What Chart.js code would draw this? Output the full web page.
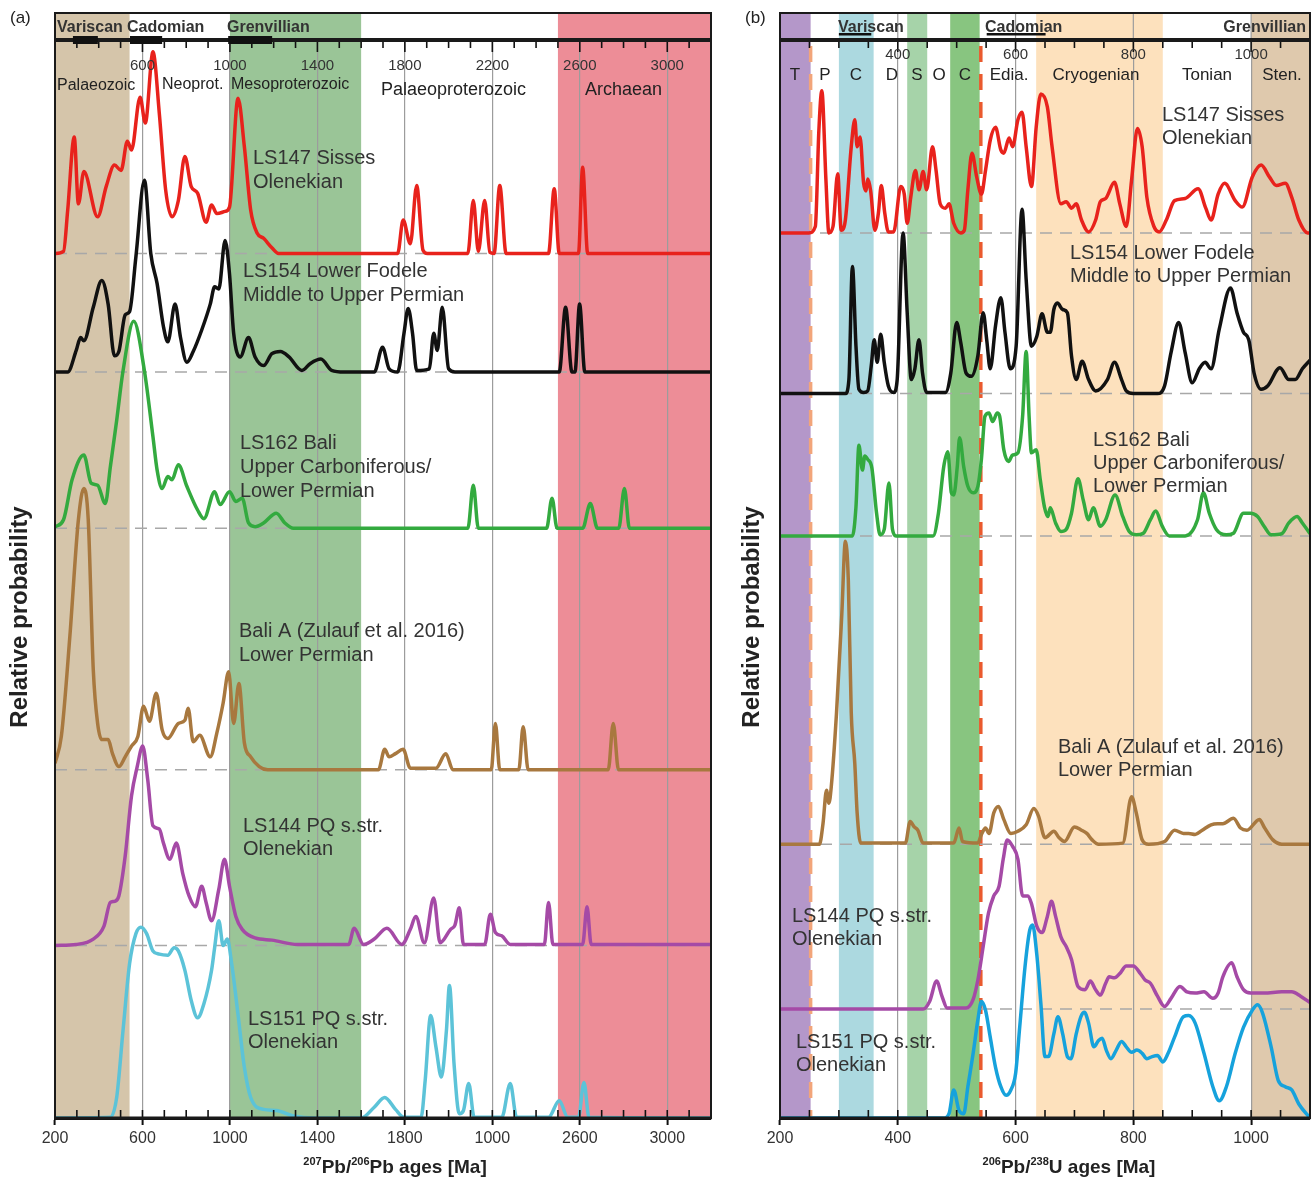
<!DOCTYPE html>
<html>
<head>
<meta charset="utf-8">
<script src="https://cdn.jsdelivr.net/npm/chart.js@4.4.1/dist/chart.umd.min.js"></script>
<style>
  body { margin: 0; background: #fff; width: 1315px; height: 1185px; position: relative; overflow: hidden;
         font-family: 'Liberation Sans', Arial, sans-serif; }
  .wrap { position: absolute; top: 0; height: 1185px; }
  #wrapA { left: 0; width: 720px; }
  #wrapB { left: 720px; width: 595px; }
  .tag { position: absolute; top: 8px; font-size: 17px; color: #222; z-index: 2; }
</style>
</head>
<body>
<div id="wrapA" class="wrap"><canvas id="chartA"></canvas></div>
<div id="wrapB" class="wrap"><canvas id="chartB"></canvas></div>
<div class="tag" style="left:10px">(a)</div>
<div class="tag" style="left:745px">(b)</div>
<script>
// ---- panel (a): 207Pb/206Pb ages, relative probability above each baseline ----
const ls147A = [[200,0],[239,0.2],[258,4.0],[288,10.8],[307,4.6],[332,7.6],[395,3.4],[434,6.2],[472,8.2],[502,7.7],[531,10.4],[550,9.6],[589,14.5],[613,12.1],[648,18.7],[677,13.0],[706,5.9],[735,3.4],[764,4.9],[794,9.0],[823,6.2],[852,5.6],[891,2.9],[916,4.5],[940,3.7],[978,3.9],[998,4.3],[1037,14.4],[1066,9.9],[1095,4.0],[1124,1.9],[1154,1.4],[1193,0.5],[1222,0],[1767,0],[1792,3.1],[1825,0.9],[1854,6.3],[1883,0.3],[1903,0],[2088,0],[2113,4.9],[2136,0.2],[2165,4.9],[2189,0.1],[2208,0],[2234,6.3],[2263,0],[2457,0],[2483,6.0],[2506,0],[2594,0],[2613,8.0],[2636,0],[3200,0]];
const ls154A = [[200,0],[258,0],[297,2.0],[317,3.2],[332,2.9],[375,6.0],[414,8.5],[443,6.3],[472,1.5],[492,1.9],[521,5.3],[541,5.6],[570,10.7],[609,17.8],[638,11.0],[667,8.2],[696,4.2],[716,2.8],[749,6.3],[774,3.2],[803,0.9],[832,1.9],[871,3.9],[910,6.3],[930,7.9],[949,7.7],[978,12.2],[998,9.1],[1017,3.6],[1047,1.4],[1085,3.2],[1115,1.4],[1154,0.6],[1192,1.7],[1231,1.9],[1270,1.4],[1329,0.15],[1368,0.8],[1416,1.2],[1465,0.15],[1523,0],[1660,0],[1698,2.3],[1728,0.3],[1767,0],[1796,3.6],[1815,5.9],[1835,3.6],[1854,0.15],[1912,0.3],[1932,3.6],[1948,2.0],[1971,6.0],[2000,0.3],[2029,0],[2506,0],[2535,6.0],[2564,0],[2578,0],[2599,6.3],[2623,0],[3200,0]];
const ls162A = [[200,0.15],[239,0.8],[278,4.5],[332,6.8],[365,4.2],[395,4.0],[430,2.3],[453,5.7],[482,10.0],[511,14.6],[560,19.2],[609,14.6],[648,8.5],[667,5.4],[690,3.7],[716,4.8],[735,4.5],[764,5.9],[803,3.9],[852,1.7],[881,0.9],[930,3.4],[955,2.2],[998,3.4],[1027,2.5],[1056,2.8],[1085,0.5],[1115,0.15],[1154,0.5],[1212,1.4],[1251,0.5],[1290,0],[2088,0],[2113,4.0],[2136,0],[2448,0],[2473,2.8],[2496,0],[2613,0],[2648,2.3],[2681,0],[2778,0],[2804,3.7],[2827,0],[3200,0]];
const baliAA = [[200,0.6],[229,3.1],[268,12.4],[307,23.2],[332,26.1],[352,23.2],[375,9.3],[395,4.3],[414,2.8],[443,2.8],[463,1.5],[492,0.3],[521,1.2],[550,2.2],[579,3.1],[605,5.9],[632,4.5],[663,7.1],[690,3.7],[716,2.9],[764,4.3],[794,4.6],[809,5.7],[832,2.6],[862,3.2],[910,1.2],[940,3.4],[969,6.2],[994,9.1],[1017,4.3],[1041,8.0],[1066,2.5],[1095,1.2],[1134,0.3],[1173,0],[1679,0],[1708,1.9],[1728,1.2],[1757,1.5],[1792,1.9],[1825,0.15],[1942,0.15],[1987,1.5],[2020,0],[2195,0],[2214,4.3],[2234,0],[2321,0],[2341,4.0],[2364,0],[2730,0],[2753,4.3],[2777,0],[3200,0]];
const ls144A = [[200,0],[297,0.1],[375,0.6],[424,1.8],[453,4.0],[472,4.1],[492,4.6],[521,8.3],[550,13.9],[576,16.6],[601,18.5],[624,15.4],[648,11.1],[677,10.8],[696,9.5],[725,8.0],[755,9.5],[784,6.7],[813,4.6],[842,3.6],[871,5.5],[891,4.0],[916,2.3],[949,5.2],[975,8.0],[998,5.5],[1027,2.7],[1056,1.5],[1115,0.7],[1192,0.5],[1309,0.1],[1543,0.1],[1568,1.6],[1611,0.1],[1660,0.6],[1718,1.6],[1786,0.1],[1825,1.5],[1850,2.7],[1889,0.25],[1932,4.4],[1961,0.25],[2009,1.5],[2029,1.9],[2049,3.5],[2068,0.1],[2165,0.1],[2191,2.9],[2214,1.2],[2243,0.9],[2282,0.1],[2438,0.1],[2457,4.0],[2477,0.1],[2613,0.1],[2633,3.6],[2652,0.1],[3200,0.1]];
const ls151A = [[200,0],[453,0.06],[482,1.9],[511,8.1],[541,14.3],[570,17.1],[593,17.7],[619,17.1],[648,15.5],[677,15.2],[716,15.1],[745,15.8],[764,15.5],[794,13.7],[823,10.9],[852,9.3],[881,10.6],[916,13.7],[930,15.8],[949,18.3],[969,16.0],[988,16.6],[1008,14.3],[1037,9.6],[1066,4.7],[1095,1.9],[1154,0.8],[1212,0.7],[1290,0.2],[1387,0],[1601,0],[1660,1.0],[1708,1.9],[1757,0.8],[1796,0.06],[1874,0.06],[1893,3.5],[1918,9.5],[1942,6.6],[1967,3.8],[1990,8.1],[2004,12.3],[2025,5.0],[2049,0.4],[2068,0.7],[2092,3.2],[2117,0.06],[2243,0.06],[2282,3.2],[2311,0.06],[2457,0.06],[2506,1.6],[2545,0.06],[2594,0.06],[2619,3.3],[2642,0.06],[3200,0]];
const baselinesA = [80.2, 69.2, 54.7, 32.3, 16.0, 0];
const tickValuesA = [200, 600, 1000, 1400, 1800, 2200, 2600, 3000];
const bottomLabelsA = ['200', '600', '1000', '1400', '1800', '1000', '2600', '3000'];
const topLabelsA = ['', '600', '1000', '1400', '1800', '2200', '2600', '3000'];
const bandsA = [[200, 541, '#d5c5aa'], [1000, 1600, '#9ac597'], [2500, 3200, '#ed8d97']];
const orogeniesA = [['Variscan', 282, 396], ['Cadomian', 543, 690], ['Grenvillian', 992, 1193]];

// ---- panel (b): 206Pb/238U ages ----
const ls147B = [[200,0],[249,0],[260,0.6],[266,9.5],[271,13.2],[278,4.9],[283,0],[290,0.6],[298,5.5],[304,0.25],[311,1.2],[321,8.0],[327,10.5],[331,8.0],[336,8.9],[342,4.6],[346,3.9],[349,5.0],[354,3.9],[361,0.25],[367,1.8],[372,4.4],[378,1.8],[384,0.1],[393,0.1],[405,4.3],[411,3.6],[416,0.9],[422,3.3],[430,5.8],[436,4.0],[443,5.7],[449,4.0],[459,8.0],[465,5.8],[472,2.7],[481,2.3],[487,2.7],[495,0.9],[507,0],[513,0.25],[519,4.0],[526,7.4],[534,5.2],[542,3.6],[549,5.8],[557,8.6],[566,9.8],[575,7.7],[580,7.4],[589,8.8],[595,8.0],[604,10.5],[611,11.2],[618,8.0],[627,4.3],[635,9.8],[643,12.9],[654,11.7],[662,8.0],[677,2.7],[686,2.9],[695,2.3],[703,2.7],[712,1.2],[724,0.1],[736,1.2],[744,2.9],[753,3.2],[768,4.7],[777,2.7],[788,0.6],[797,4.9],[807,9.7],[815,8.0],[823,3.3],[835,0.6],[844,0.1],[856,1.2],[870,3.0],[888,3.2],[910,4.1],[923,2.3],[932,1.2],[944,3.6],[955,4.6],[973,3.0],[985,2.4],[1002,5.2],[1017,6.3],[1031,5.2],[1043,4.4],[1058,4.6],[1069,3.3],[1081,1.2],[1096,0],[1100,0]];
const ls154B = [[200,0],[311,0],[317,1.3],[323,11.8],[329,4.4],[334,0.4],[342,0.1],[349,0.25],[355,2.6],[360,5.0],[365,2.9],[371,5.5],[377,2.9],[384,0.7],[393,0.1],[399,1.3],[409,14.9],[416,7.5],[423,1.3],[429,2.3],[436,5.0],[442,1.9],[449,0.1],[481,0.1],[490,1.9],[500,6.6],[507,4.7],[516,1.9],[525,1.6],[536,3.5],[545,7.5],[551,5.0],[557,2.3],[566,6.3],[575,8.9],[582,5.7],[591,2.3],[601,4.4],[611,17.1],[618,10.6],[627,4.4],[636,5.3],[645,7.4],[654,5.7],[659,5.7],[665,7.8],[671,8.4],[680,7.8],[688,7.5],[695,3.5],[703,1.3],[713,3.0],[724,1.3],[736,0.25],[756,1.3],[768,2.9],[780,1.3],[788,0.25],[800,0],[841,0],[853,0.7],[864,3.8],[877,6.6],[888,3.8],[900,1.0],[912,2.3],[922,2.9],[932,2.3],[946,6.0],[965,9.8],[976,7.5],[987,5.7],[996,5.0],[1005,1.9],[1017,0.4],[1028,0.7],[1049,2.4],[1064,1.3],[1075,1.3],[1087,2.3],[1100,3.1]];
const ls162B = [[200,0],[323,0],[329,2.7],[334,8.4],[340,6.1],[344,7.4],[349,7.1],[356,6.3],[364,2.1],[370,0.1],[377,0.6],[385,4.9],[391,0.6],[397,0],[460,0],[469,2.1],[478,6.4],[485,7.8],[491,4.0],[495,3.8],[501,6.4],[505,9.1],[512,6.4],[519,4.6],[528,4.0],[536,4.6],[542,7.1],[548,11.1],[555,11.4],[561,10.6],[569,11.4],[573,11.1],[580,8.0],[588,6.9],[595,7.5],[604,7.7],[612,11.1],[618,17.1],[623,11.1],[627,7.7],[635,8.0],[642,5.2],[649,2.7],[655,1.8],[659,2.6],[668,1.2],[677,0.4],[686,0.6],[695,2.1],[706,5.3],[715,3.3],[724,1.5],[732,2.6],[744,0.9],[753,1.5],[769,3.8],[782,1.8],[793,0.4],[805,0.1],[817,0.25],[829,1.5],[838,2.3],[849,0.9],[861,0],[888,0],[909,1.5],[919,4.0],[929,2.1],[941,0.6],[958,0.1],[970,0.25],[987,2.1],[999,2.1],[1011,1.8],[1022,0.9],[1034,0.1],[1052,0.2],[1064,1.2],[1078,1.8],[1087,1.2],[1100,0.2]];
const baliAB = [[200,0],[267,0],[273,1.9],[279,5.0],[283,3.8],[287,5.3],[296,12.2],[305,21.4],[311,28.1],[316,24.5],[321,12.2],[327,7.5],[331,2.9],[337,0.1],[413,0.1],[421,2.1],[428,1.6],[434,1.3],[443,0.1],[495,0.1],[504,1.5],[510,0.25],[536,0.1],[542,0.9],[549,1.5],[555,1.0],[563,2.9],[571,3.5],[580,2.3],[592,1.0],[604,1.2],[618,1.8],[631,3.3],[639,2.6],[650,0.6],[665,1.2],[674,0.6],[683,0.25],[700,1.6],[712,1.3],[721,1.0],[730,0.4],[741,0],[782,0.1],[797,4.4],[805,2.9],[815,0.4],[826,0],[853,0.25],[870,1.3],[885,1.0],[894,1.0],[905,0.9],[917,1.3],[932,1.8],[943,1.9],[952,1.9],[970,2.4],[982,1.5],[993,1.3],[1014,2.3],[1022,1.6],[1037,0.4],[1052,0],[1100,0]];
const ls144B = [[200,0],[443,0],[454,0.7],[466,2.6],[475,1.2],[484,0.1],[516,0.1],[528,0.9],[536,2.7],[545,5.8],[554,8.9],[563,10.5],[572,11.4],[579,13.9],[586,15.7],[595,15.1],[604,13.9],[612,10.5],[621,10.5],[627,9.8],[636,7.7],[645,7.1],[654,8.6],[661,10.0],[668,8.6],[677,6.7],[686,5.8],[695,4.6],[706,2.1],[718,1.8],[727,2.6],[736,1.8],[744,1.3],[753,2.4],[759,3.0],[768,2.9],[777,3.3],[788,4.0],[800,4.0],[812,3.3],[820,2.7],[829,2.4],[841,1.2],[853,0.25],[864,1.0],[879,2.1],[891,1.6],[905,1.5],[920,1.6],[935,1.0],[944,1.5],[952,3.0],[967,4.3],[976,3.0],[987,1.8],[999,1.5],[1022,1.5],[1052,1.6],[1069,1.6],[1084,1.2],[1100,0.6]];
const ls151B = [[200,0],[478,0],[487,0.4],[495,2.6],[504,0.7],[512,0.4],[519,2.9],[528,6.0],[536,9.1],[542,10.8],[549,10.0],[557,7.5],[566,4.7],[575,2.9],[584,2.1],[592,2.6],[600,4.1],[607,8.4],[616,14.0],[624,17.4],[629,17.9],[636,15.2],[643,10.6],[650,5.7],[656,5.7],[665,7.8],[672,9.4],[680,7.8],[688,5.7],[694,5.5],[703,7.8],[711,9.4],[717,9.8],[724,8.8],[733,6.6],[741,7.2],[747,7.4],[754,6.3],[762,5.5],[771,6.3],[780,7.1],[788,6.6],[797,6.1],[806,6.3],[815,6.0],[823,5.5],[832,5.7],[841,5.8],[850,5.2],[859,6.0],[870,7.5],[885,9.4],[894,9.5],[905,8.8],[920,6.0],[935,2.9],[946,1.6],[958,2.9],[973,6.0],[987,8.4],[1002,10.0],[1011,10.5],[1019,9.8],[1034,6.6],[1046,3.5],[1058,2.9],[1069,2.6],[1081,1.3],[1100,0]];
const baselinesB = [82.1, 67.2, 54.0, 25.4, 10.1, 0];
const tickValuesB = [200, 400, 600, 800, 1000];
const bottomLabelsB = ['200', '400', '600', '800', '1000'];
const topLabelsB = ['', '400', '600', '800', '1000'];
const bandsB = [[200, 252, '#b497c9'], [300, 359, '#acd9e0'], [416, 450, '#a6d3a9'], [489, 539, '#88c580'], [635, 850, '#fde1bd'], [1000, 1100, '#dfc9ad']];
const orogeniesB = [['Variscan', 300, 355], ['Cadomian', 551, 651]];
const boundariesB = [[252, '#f2a57a'], [541, '#ea5a2e']];

const seriesColors = ['#e8221c', '#111111', '#33aa3f', '#a8783f', '#a54aa6'];
const FONT = "'Liberation Sans', Arial, sans-serif";
const HEADER_TOP = 13;

function text(ctx, str, x, y, size, opts = {}) {
  ctx.font = (opts.bold ? 'bold ' : '') + size + 'px ' + FONT;
  ctx.fillStyle = opts.color || '#2a2a2a';
  ctx.textAlign = opts.align || 'left';
  ctx.textBaseline = 'middle';
  ctx.fillText(str, x, y);
}

function isoTitle(ctx, parts, cx, y) {
  // parts: [text, isSuperscript]
  const big = 'bold 19px ' + FONT, small = 'bold 11px ' + FONT;
  let total = 0;
  parts.forEach(([t, sup]) => { ctx.font = sup ? small : big; total += ctx.measureText(t).width; });
  let x = cx - total / 2;
  ctx.fillStyle = '#222';
  ctx.textAlign = 'left';
  ctx.textBaseline = 'alphabetic';
  parts.forEach(([t, sup]) => {
    ctx.font = sup ? small : big;
    ctx.fillText(t, x, sup ? y - 1 : y + 7);
    x += ctx.measureText(t).width;
  });
}

function panelPlugin(cfg) {
  return {
    id: 'panel' + cfg.id,
    beforeDraw(chart) {
      const { ctx, chartArea: a, scales: { x } } = chart;
      ctx.save();
      cfg.bands.forEach(([from, to, color]) => {
        const x0 = x.getPixelForValue(from), x1 = x.getPixelForValue(to);
        ctx.fillStyle = color;
        ctx.fillRect(x0, HEADER_TOP, x1 - x0, a.bottom - HEADER_TOP);
      });
      if (cfg.headerGrid) {
        ctx.strokeStyle = '#9c9c9c';
        ctx.lineWidth = 1.2;
        cfg.tickValues.slice(1).forEach(v => {
          const px = x.getPixelForValue(v);
          ctx.beginPath(); ctx.moveTo(px, HEADER_TOP); ctx.lineTo(px, a.top); ctx.stroke();
        });
      }
      ctx.restore();
    },
    beforeDatasetsDraw(chart) {
      const { ctx, chartArea: a, scales: { x } } = chart;
      ctx.save();
      (cfg.boundaries || []).forEach(([v, color]) => {
        const px = x.getPixelForValue(v);
        ctx.strokeStyle = color;
        ctx.lineWidth = 3.5;
        ctx.setLineDash([16, 12]);
        ctx.beginPath(); ctx.moveTo(px, a.top + 6); ctx.lineTo(px, a.bottom); ctx.stroke();
      });
      ctx.restore();
    },
    afterDraw(chart) {
      const { ctx, chartArea: a, scales: { x } } = chart;
      ctx.save();
      // minor ticks: pointing down under the header line and up from the bottom axis
      ctx.strokeStyle = '#111';
      ctx.lineWidth = 1.6;
      x.ticks.forEach(t => {
        if (t.value <= cfg.min || t.value >= cfg.max) return;
        const px = x.getPixelForValue(t.value);
        const major = cfg.tickValues.includes(t.value);
        ctx.beginPath(); ctx.moveTo(px, a.top); ctx.lineTo(px, a.top + (major ? 12 : 8)); ctx.stroke();
        ctx.beginPath(); ctx.moveTo(px, a.bottom); ctx.lineTo(px, a.bottom - 8); ctx.stroke();
      });
      // frame and header line
      ctx.lineWidth = 2;
      ctx.strokeStyle = '#1a1a1a';
      ctx.strokeRect(a.left, HEADER_TOP, a.right - a.left, a.bottom - HEADER_TOP);
      ctx.lineWidth = 4;
      ctx.beginPath(); ctx.moveTo(a.left, a.top); ctx.lineTo(a.right, a.top); ctx.stroke();
      ctx.lineWidth = 3;
      ctx.beginPath(); ctx.moveTo(a.left, a.bottom); ctx.lineTo(a.right, a.bottom); ctx.stroke();
      // orogeny bars and names
      cfg.orogenies.forEach(([name, from, to]) => {
        const x0 = x.getPixelForValue(from), x1 = x.getPixelForValue(to);
        ctx.fillStyle = '#111';
        if (cfg.thickBars) ctx.fillRect(x0, a.top - 4, x1 - x0, 8);
        else ctx.fillRect(x0, a.top - 7, x1 - x0, 2.5);
      });
      cfg.headerNames.forEach(([name, px, align]) => text(ctx, name, px, 28, 16, { bold: true, align, color: '#333' }));
      // top tick labels and era names
      cfg.tickValues.forEach((v, i) => {
        if (cfg.topLabels[i]) text(ctx, cfg.topLabels[i], x.getPixelForValue(v), cfg.topLabelY, 15, { align: 'center', color: '#333' });
      });
      cfg.eras.forEach(([name, px, py, size, align]) => text(ctx, name, px, py, size, { align: align || 'left', color: '#222' }));
      // sample labels
      cfg.sampleLabels.forEach(([name, px, py]) => text(ctx, name, px, py, 20, { color: '#333' }));
      // axis titles
      ctx.save();
      ctx.translate(cfg.yTitleX, 617);
      ctx.rotate(-Math.PI / 2);
      text(ctx, 'Relative probability', 0, 0, 24, { bold: true, align: 'center', color: '#222' });
      ctx.restore();
      isoTitle(ctx, cfg.xTitle, cfg.xTitleX, 1166);
      ctx.restore();
    }
  };
}

function buildPanel(canvasId, cfg) {
  const datasets = [];
  cfg.series.forEach((pts, i) => {
    datasets.push({
      data: pts.map(([age, p]) => ({ x: age, y: p + cfg.baselines[i] })),
      borderColor: cfg.colors[i],
      borderWidth: 3.5,
      pointRadius: 0,
      cubicInterpolationMode: 'monotone',
      order: 10 - i
    });
    datasets.push({
      data: [{ x: cfg.min, y: cfg.baselines[i] }, { x: cfg.max, y: cfg.baselines[i] }],
      borderColor: '#a8a8a8',
      borderWidth: 1.5,
      borderDash: [12, 8],
      pointRadius: 0,
      order: 100
    });
  });
  const labelOf = v => {
    const i = cfg.tickValues.indexOf(v);
    return i >= 0 ? cfg.bottomLabels[i] : '';
  };
  new Chart(document.getElementById(canvasId), {
    type: 'line',
    data: { datasets },
    plugins: [panelPlugin(cfg)],
    options: {
      responsive: true,
      maintainAspectRatio: false,
      animation: false,
      layout: { padding: { top: 40, left: cfg.padLeft, right: cfg.padRight, bottom: 0 } },
      plugins: { legend: { display: false }, tooltip: { enabled: false } },
      scales: {
        x: {
          type: 'linear',
          min: cfg.min,
          max: cfg.max,
          afterFit: s => { s.height = 67; },
          border: { display: true, color: '#111', width: 3 },
          grid: {
            color: c => (c.tick && cfg.tickValues.includes(c.tick.value) && c.tick.value !== cfg.min) ? '#9c9c9c' : 'rgba(0,0,0,0)',
            lineWidth: 1.2,
            tickLength: 7,
            tickWidth: 2,
            tickColor: c => (c.tick && cfg.tickValues.includes(c.tick.value)) ? '#111' : 'rgba(0,0,0,0)'
          },
          ticks: {
            stepSize: cfg.step,
            autoSkip: false,
            maxRotation: 0,
            padding: 4,
            color: '#333',
            font: { size: 16, family: FONT },
            callback: v => labelOf(v)
          }
        },
        y: { display: false, min: 0, max: 100 }
      }
    }
  });
}

buildPanel('chartA', {
  id: 'A', min: 200, max: 3200, step: 100, padLeft: 55, padRight: 9,
  series: [ls147A, ls154A, ls162A, baliAA, ls144A, ls151A],
  colors: [...seriesColors, '#5cc3d8'],
  baselines: baselinesA,
  tickValues: tickValuesA, bottomLabels: bottomLabelsA, topLabels: topLabelsA, topLabelY: 66,
  bands: bandsA, orogenies: orogeniesA, thickBars: true,
  headerNames: [['Variscan', 57, 'left'], ['Cadomian', 127, 'left'], ['Grenvillian', 227, 'left']],
  eras: [['Palaeozoic', 57, 86, 16], ['Neoprot.', 162, 85, 16], ['Mesoproterozoic', 231, 85, 16],
         ['Palaeoproterozoic', 381, 90, 18], ['Archaean', 585, 90, 18]],
  sampleLabels: [['LS147 Sisses', 253, 158], ['Olenekian', 253, 182],
                 ['LS154 Lower Fodele', 243, 271], ['Middle to Upper Permian', 243, 295],
                 ['LS162 Bali', 240, 443], ['Upper Carboniferous/', 240, 467], ['Lower Permian', 240, 491],
                 ['Bali A (Zulauf et al. 2016)', 239, 631], ['Lower Permian', 239, 655],
                 ['LS144 PQ s.str.', 243, 826], ['Olenekian', 243, 849],
                 ['LS151 PQ s.str.', 248, 1019], ['Olenekian', 248, 1042]],
  yTitleX: 20,
  xTitle: [['207', true], ['Pb/', false], ['206', true], ['Pb ages [Ma]', false]], xTitleX: 395
});

buildPanel('chartB', {
  id: 'B', min: 200, max: 1100, step: 50, padLeft: 60, padRight: 5,
  series: [ls147B, ls154B, ls162B, baliAB, ls144B, ls151B],
  colors: [...seriesColors, '#16a2dc'],
  baselines: baselinesB,
  tickValues: tickValuesB, bottomLabels: bottomLabelsB, topLabels: topLabelsB, topLabelY: 55,
  bands: bandsB, orogenies: orogeniesB, thickBars: false, boundaries: boundariesB, headerGrid: true,
  headerNames: [['Variscan', 118, 'left'], ['Cadomian', 265, 'left'], ['Grenvillian', 586, 'right']],
  eras: [['T', 75, 75, 17, 'center'], ['P', 105, 75, 17, 'center'], ['C', 136, 75, 17, 'center'],
         ['D', 172, 75, 17, 'center'], ['S', 197, 75, 17, 'center'], ['O', 219, 75, 17, 'center'],
         ['C', 245, 75, 17, 'center'], ['Edia.', 289, 75, 17, 'center'], ['Cryogenian', 376, 75, 17, 'center'],
         ['Tonian', 487, 75, 17, 'center'], ['Sten.', 562, 75, 17, 'center']],
  sampleLabels: [['LS147 Sisses', 442, 115], ['Olenekian', 442, 138],
                 ['LS154 Lower Fodele', 350, 253], ['Middle to Upper Permian', 350, 276],
                 ['LS162 Bali', 373, 440], ['Upper Carboniferous/', 373, 463], ['Lower Permian', 373, 486],
                 ['Bali A (Zulauf et al. 2016)', 338, 747], ['Lower Permian', 338, 770],
                 ['LS144 PQ s.str.', 72, 916], ['Olenekian', 72, 939],
                 ['LS151 PQ s.str.', 76, 1042], ['Olenekian', 76, 1065]],
  yTitleX: 32,
  xTitle: [['206', true], ['Pb/', false], ['238', true], ['U ages [Ma]', false]], xTitleX: 349
});
</script>
</body>
</html>
